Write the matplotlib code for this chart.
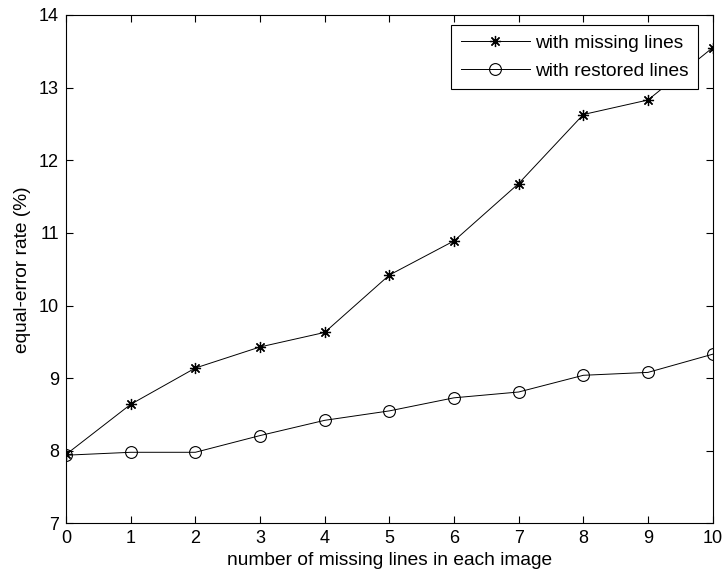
import matplotlib
matplotlib.use("Agg")
import matplotlib.pyplot as plt

# number of missing lines per image
missing_lines = [0, 1, 2, 3, 4, 5, 6, 7, 8, 9, 10]

# equal-error rate (%)
eer_missing = [7.95, 8.64, 9.14, 9.43, 9.63, 10.42, 10.89, 11.68, 12.63, 12.83, 13.55]
eer_restored = [7.94, 7.98, 7.98, 8.21, 8.42, 8.55, 8.73, 8.81, 9.04, 9.08, 9.33]

x_ticks = list(range(0, 11))
y_ticks = list(range(7, 15))

plt.rcParams['font.family'] = ['Liberation Sans', 'DejaVu Sans']

fig = plt.figure(figsize=(7.23, 5.81), dpi=100)
ax = fig.add_axes([0.0913, 0.099, 0.8944, 0.8752])

ax.plot(missing_lines, eer_missing, color='black', linewidth=0.7,
        marker=(8, 2, 0), markersize=8, markeredgewidth=0.9,
        label='with missing lines')
ax.plot(missing_lines, eer_restored, color='black', linewidth=0.7,
        marker='o', markersize=8.5, markerfacecolor='none', markeredgewidth=0.8,
        label='with restored lines')

ax.set_xlim(0, 10)
ax.set_ylim(7, 14)
ax.set_xticks(x_ticks)
ax.set_yticks(y_ticks)
ax.tick_params(direction='in', top=True, right=True, length=5, width=0.8,
               labelsize=13, pad=5)
for s in ax.spines.values():
    s.set_linewidth(0.8)

ax.set_xlabel('number of missing lines in each image', fontsize=13.8, labelpad=3)
ax.set_ylabel('equal-error rate (%)', fontsize=13.8, labelpad=6)

leg = ax.legend(loc='upper right', bbox_to_anchor=(0.977, 0.981),
                borderaxespad=0, fontsize=13.8, frameon=True, fancybox=False,
                edgecolor='black', framealpha=1,
                handlelength=3.6, handletextpad=0.25, borderpad=0.5,
                labelspacing=0.55)
leg.get_frame().set_linewidth(0.8)

fig.savefig('out.png', dpi=100)
